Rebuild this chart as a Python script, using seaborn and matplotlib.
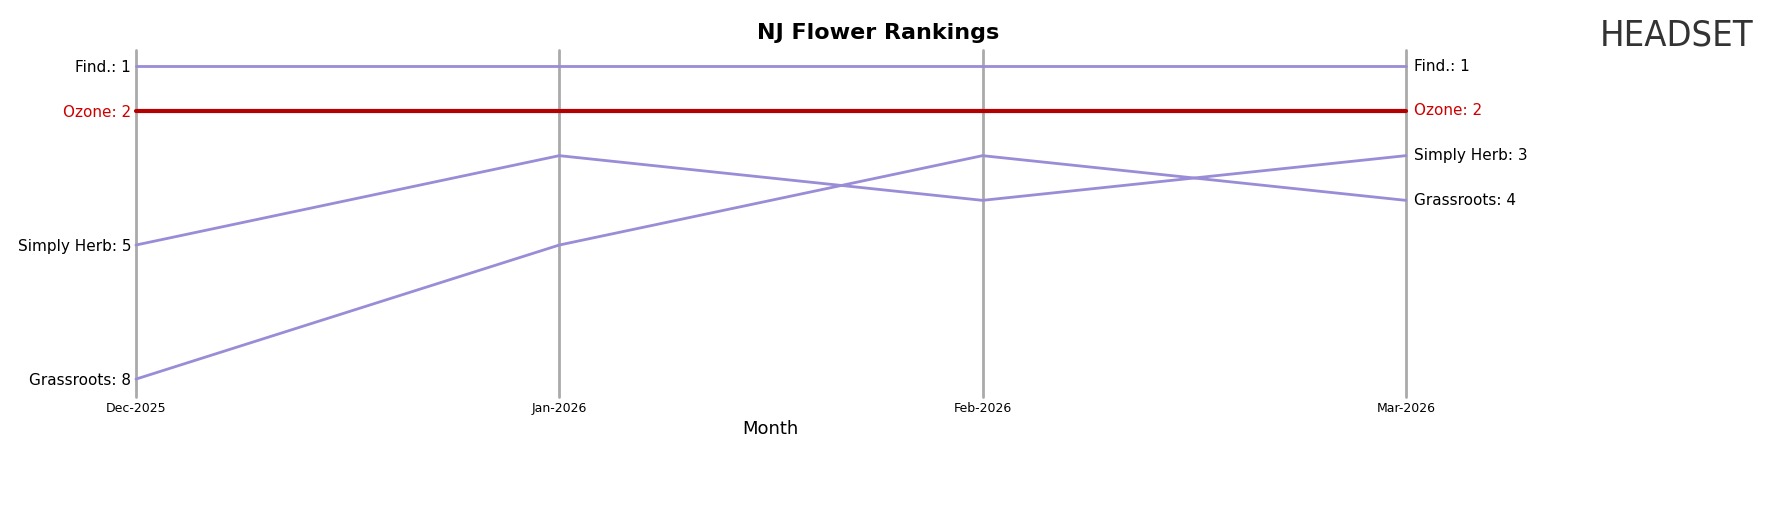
import matplotlib
matplotlib.use("Agg")
import matplotlib.pyplot as plt
import seaborn as sns
import pandas as pd

months = ["Dec-2025", "Jan-2026", "Feb-2026", "Mar-2026"]
brands = ["Find.", "Ozone", "Simply Herb", "Grassroots"]
ranks = {
    "Find.": [1, 1, 1, 1],
    "Ozone": [2, 2, 2, 2],
    "Simply Herb": [5, 3, 4, 3],
    "Grassroots": [8, 5, 3, 4],
}
highlight = "Ozone"

rows = []
for b in brands:
    for i, m in enumerate(months):
        rows.append({"brand": b, "x": i, "rank": ranks[b][i]})
df = pd.DataFrame(rows)

sns.set_style("white")
plt.rcParams["text.color"] = "black"
plt.rcParams["axes.labelcolor"] = "black"
plt.rcParams["xtick.color"] = "black"
plt.rcParams["ytick.color"] = "black"
fig = plt.figure(figsize=(17.84, 5.07), dpi=100)
ax = fig.add_axes([0.0762, 0.217, 0.788 - 0.0762, 0.901 - 0.217])

for i in range(len(months)):
    ax.axvline(i, color="#aaaaaa", lw=2, zorder=0, clip_on=False)

palette = {b: ("#b30000" if b == highlight else "#9a8cd6") for b in brands}
for b in brands:
    sub = df[df.brand == b]
    sns.lineplot(data=sub, x="x", y="rank", ax=ax, color=palette[b],
                 lw=3 if b == highlight else 2, legend=False,
                 zorder=3 if b == highlight else 2, clip_on=False)

ax.set_xlim(0, len(months) - 1)
ax.set_ylim(8.4, 0.64)
ax.set_xticks(range(len(months)))
ax.set_xticklabels(months, fontsize=9)
first = [ranks[b][0] for b in brands]
ax.set_yticks(first)
ax.set_yticklabels([f"{b}: {ranks[b][0]}" for b in brands], fontsize=11)
for lbl, b in zip(ax.get_yticklabels(), brands):
    lbl.set_color("#cc0000" if b == highlight else "black")
for b in brands:
    ax.text(len(months) - 1 + 0.02, ranks[b][-1], f"{b}: {ranks[b][-1]}",
            va="center", ha="left", fontsize=11,
            color="#cc0000" if b == highlight else "black")
ax.tick_params(axis="both", length=0)
for s in ax.spines.values():
    s.set_visible(False)
ax.set_xlabel("Month", fontsize=13)
ax.set_ylabel("")
fig.text(0.4925, 0.935, "NJ Flower Rankings", ha="center", va="center",
         fontsize=16, fontweight="bold")
fig.text(0.788, 0.93, "HEADSET", ha="left", va="center", fontsize=26,
         color="#333333", fontstretch="condensed")
fig.texts[-1].set_position((0.788, 0.93))
fig.texts[-1].set_x(0.787)
fig.texts[-1].set_ha("left")
fig.texts[-1].set_x(0.79)
fig.texts[-1].set_x(0.788)
fig.texts[-1].set_x(0.79 + 0.0)
fig.texts[-1].set_x(0.789)
fig.texts[-1].set_x(0.79)
fig.texts[-1].set_x(0.897)
fig.savefig("out.png", dpi=100)
